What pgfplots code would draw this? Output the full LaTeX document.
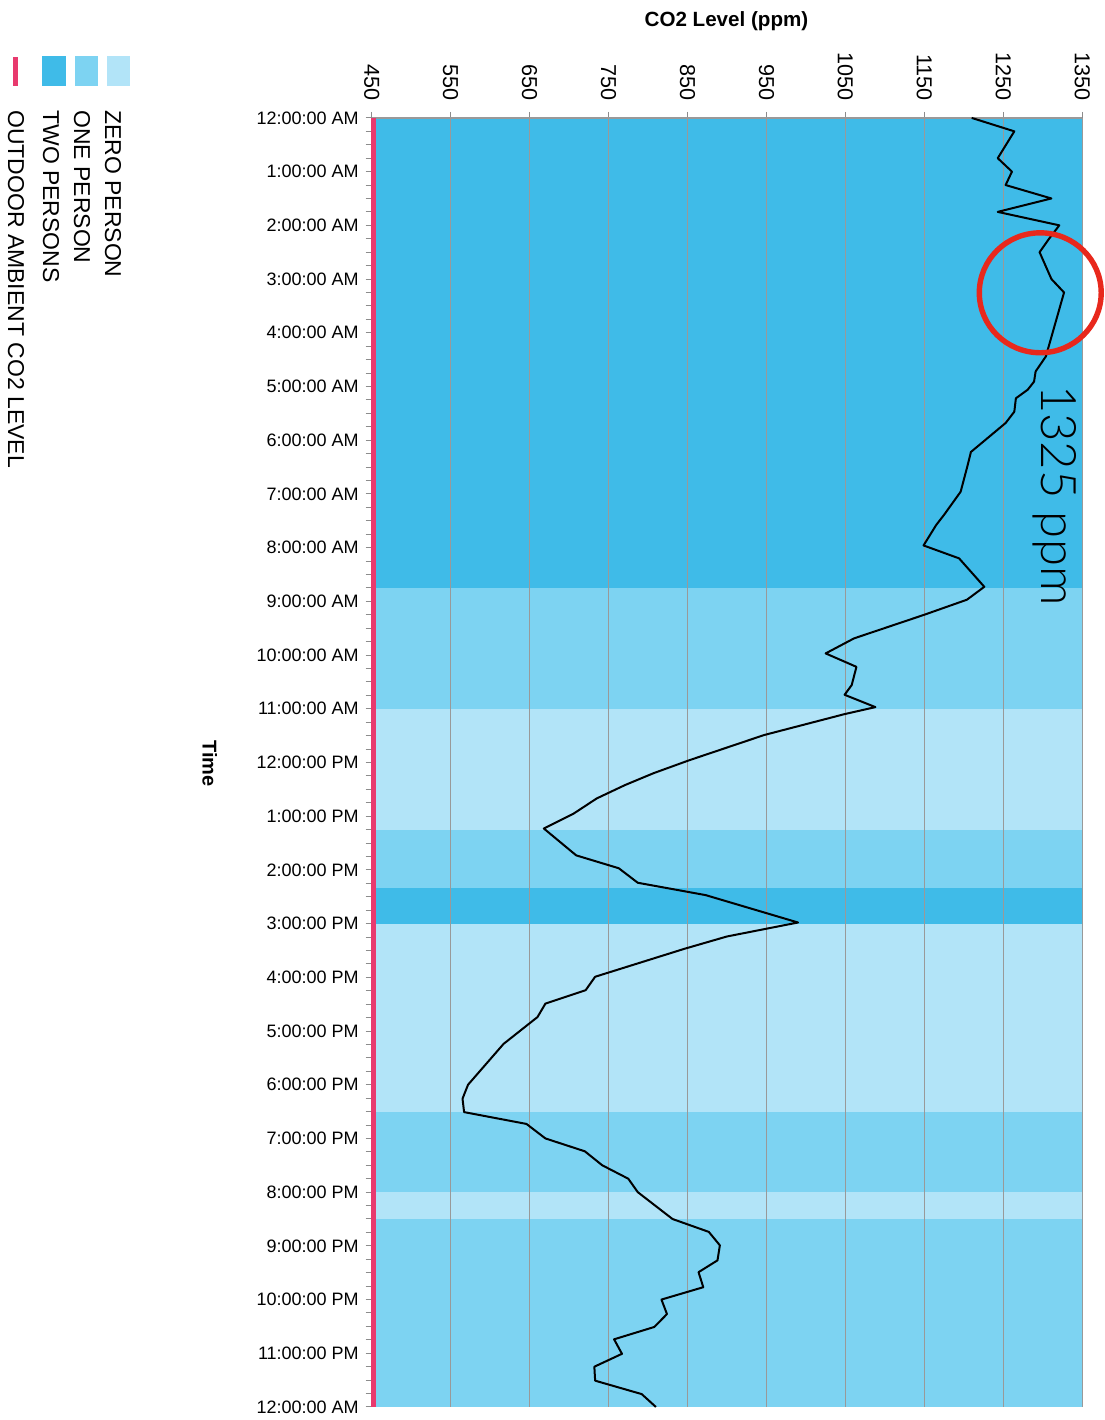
\documentclass[border=0pt]{standalone}
\usepackage{fontspec}
\setmainfont{Liberation Sans}
\newfontfamily\lightfont{Lato}[UprightFont=* Light]
\usepackage{pgfplots}
\pgfplotsset{compat=1.18}
\definecolor{bdark}{HTML}{3FBBE8}
\definecolor{bmed}{HTML}{7DD3F2}
\definecolor{blight}{HTML}{B2E4F8}
\definecolor{pinkc}{HTML}{E83A6E}
\definecolor{circred}{HTML}{E8281C}
\begin{document}
\begin{tikzpicture}
\path (0,0) rectangle (552.5pt,-710pt);
\begin{axis}[
  set layers,
  at={(186pt,-59pt)}, anchor=north west,
  scale only axis, width=355.5pt, height=645pt,
  xmin=450, xmax=1350, ymin=0, ymax=24, y dir=reverse,
  axis x line*=top, axis y line*=left,
  xtick={450,550,...,1350}, ytick={0,1,...,24},
  minor y tick num=3,
  xmajorgrids, grid style={color=black!40, line width=0.6pt},
  tick align=outside, major tick length=3pt, minor tick length=3pt,
  tick style={black!45, line width=0.5pt},
  axis line style={black!40, line width=0.6pt},
  xticklabel style={rotate=-90, anchor=east, font=\fontsize{10.8}{12}\selectfont},
  xticklabel shift=2pt,
  yticklabel style={font=\fontsize{9}{11}\selectfont},
  yticklabels={12:00:00 AM,1:00:00 AM,2:00:00 AM,3:00:00 AM,4:00:00 AM,5:00:00 AM,6:00:00 AM,7:00:00 AM,8:00:00 AM,9:00:00 AM,10:00:00 AM,11:00:00 AM,12:00:00 PM,1:00:00 PM,2:00:00 PM,3:00:00 PM,4:00:00 PM,5:00:00 PM,6:00:00 PM,7:00:00 PM,8:00:00 PM,9:00:00 PM,10:00:00 PM,11:00:00 PM,12:00:00 AM},
  /pgf/number format/assume math mode=true,
  /pgf/number format/set thousands separator={},
  clip=false,
]
% occupancy bands
\addplot[draw=none, fill=bdark, on layer=axis background] coordinates {(450,0) (1350,0) (1350,8.75) (450,8.75)};
\addplot[draw=none, fill=bmed, on layer=axis background] coordinates {(450,8.75) (1350,8.75) (1350,11) (450,11)};
\addplot[draw=none, fill=blight, on layer=axis background] coordinates {(450,11) (1350,11) (1350,13.25) (450,13.25)};
\addplot[draw=none, fill=bmed, on layer=axis background] coordinates {(450,13.25) (1350,13.25) (1350,14.33) (450,14.33)};
\addplot[draw=none, fill=bdark, on layer=axis background] coordinates {(450,14.33) (1350,14.33) (1350,15) (450,15)};
\addplot[draw=none, fill=blight, on layer=axis background] coordinates {(450,15) (1350,15) (1350,18.5) (450,18.5)};
\addplot[draw=none, fill=bmed, on layer=axis background] coordinates {(450,18.5) (1350,18.5) (1350,20) (450,20)};
\addplot[draw=none, fill=blight, on layer=axis background] coordinates {(450,20) (1350,20) (1350,20.5) (450,20.5)};
\addplot[draw=none, fill=bmed, on layer=axis background] coordinates {(450,20.5) (1350,20.5) (1350,24) (450,24)};
% outdoor ambient
\addplot[pinkc, line width=2.7pt] coordinates {(452.5,0) (452.5,24)};
% CO2 level
\addplot[black, line width=1pt, line join=round] coordinates {
(1210,0.00) (1264,0.25) (1243,0.75) (1261,1.00) (1253,1.25) (1311,1.50) (1243,1.75) (1321,2.00)
(1308,2.25) (1296,2.50) (1311,3.00) (1327,3.25) (1304,4.44) (1291,4.72) (1289,4.91) (1281,5.06)
(1266,5.22) (1264,5.47) (1253,5.68) (1209,6.22) (1205,6.46) (1196,6.96) (1175,7.39) (1165,7.58)
(1149,7.96) (1194,8.20) (1226,8.73) (1204,8.97) (1150,9.25) (1061,9.69) (1025,9.97) (1064,10.22)
(1058,10.56) (1049,10.74) (1088,10.97) (1049,11.10) (947,11.49) (852,11.96) (807,12.20) (771,12.42)
(735,12.67) (706,12.95) (668,13.23) (709,13.73) (763,13.97) (787,14.24) (873,14.47) (990,14.98)
(900,15.24) (846,15.47) (733,15.99) (721,16.24) (670,16.49) (660,16.74) (617,17.24) (572,18.00)
(565,18.26) (567,18.51) (646,18.73) (670,19.00) (720,19.24) (742,19.50) (775,19.75) (787,20.00)
(831,20.50) (877,20.74) (891,20.99) (888,21.27) (864,21.49) (870,21.77) (817,22.00) (824,22.27)
(808,22.51) (757,22.74) (767,23.01) (732,23.25) (733,23.51) (792,23.76) (810,24.00)
};
\end{axis}
\begin{scope}[x=0.5pt, y=-0.5pt]
\node[font=\bfseries\fontsize{10.3}{12}\selectfont] at (727,21) {CO2 Level (ppm)};
\node[rotate=-90, font=\bfseries\fontsize{10}{12}\selectfont] at (210,764) {Time};
% legend
\fill[blight] (107,56) rectangle (130,86);
\fill[bmed] (75,56) rectangle (98,86);
\fill[bdark] (42,56) rectangle (66,86);
\fill[pinkc] (13.5,57) rectangle (18.5,86);
\node[rotate=-90, anchor=west, inner sep=0, font=\fontsize{11.5}{13}\selectfont] at (113,110) {ZERO PERSON};
\node[rotate=-90, anchor=west, inner sep=0, font=\fontsize{11.5}{13}\selectfont] at (82,110) {ONE PERSON};
\node[rotate=-90, anchor=west, inner sep=0, font=\fontsize{11.5}{13}\selectfont] at (51,110) {TWO PERSONS};
\node[rotate=-90, anchor=west, inner sep=0, font=\fontsize{11.5}{13}\selectfont] at (16,110) {OUTDOOR AMBIENT CO2 LEVEL};
% annotation
\draw[color=circred, line width=2.7pt] (1041,293) ellipse [x radius=61, y radius=60];
\node[rotate=-90, anchor=west, inner sep=0, font=\lightfont\fontsize{24.5}{28}\selectfont] at (1055,385) {1325 ppm};
\end{scope}
\end{tikzpicture}
\end{document}
